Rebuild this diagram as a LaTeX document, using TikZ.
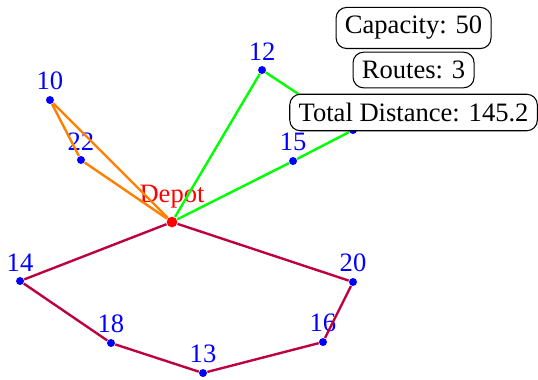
\documentclass[tikz,border=0pt]{standalone}
\usepackage{fontspec}
\setmainfont{Liberation Serif}
\tikzset{
  stop/.style={circle, fill=blue, inner sep=0pt, minimum size=3pt},
  depot/.style={circle, fill=red, inner sep=0pt, minimum size=4pt},
  route/.style={line width=0.9pt},
  infobox/.style={draw, rounded corners, fill=white, align=center},
}
\begin{document}
\begin{tikzpicture}
\useasboundingbox (0,0) rectangle (7.116,-5.013);
\node[depot, label={[red, label distance=-0.4pt]above:Depot}] (depot) at (2.275,-2.937) {};
\node[stop, label={[blue, label distance=-1.5pt]above:10}] (c10) at (0.661,-1.323) {};
\node[stop, label={[blue, label distance=-1.5pt]above:22}] (c22) at (1.071,-2.116) {};
\node[stop, label={[blue, label distance=-1.5pt]above:12}] (c12) at (3.466,-0.926) {};
\node[stop, label={[blue, label distance=-1.5pt]above:15}] (c15) at (3.876,-2.130) {};
\node[stop] (cx) at (4.669,-1.720) {};
\node[stop, label={[blue, label distance=-1.5pt]above:14}] (c14) at (0.265,-3.717) {};
\node[stop, label={[blue, label distance=-1.5pt]above:18}] (c18) at (1.468,-4.537) {};
\node[stop, label={[blue, label distance=-1.5pt]above:13}] (c13) at (2.685,-4.934) {};
\node[stop, label={[blue, label distance=-1.5pt]above:16}] (c16) at (4.272,-4.524) {};
\node[stop, label={[blue, label distance=-1.5pt]above:20}] (c20) at (4.669,-3.730) {};
% routes
\draw[route, orange] (depot) -- (c22) -- (c10) -- (depot);
\draw[route, green] (depot) -- (c12) -- (cx) -- (c15) -- (depot);
\draw[route, purple] (depot) -- (c14) -- (c18) -- (c13) -- (c16) -- (c20) -- (depot);
% summary
\node[infobox] (cap) at (5.47,-0.370) {Capacity: 50};
\node[infobox] (routes) at (5.47,-0.926) {Routes: 3};
\node[infobox] (dist) at (5.47,-1.488) {Total Distance: 145.2};
\end{tikzpicture}
\end{document}
